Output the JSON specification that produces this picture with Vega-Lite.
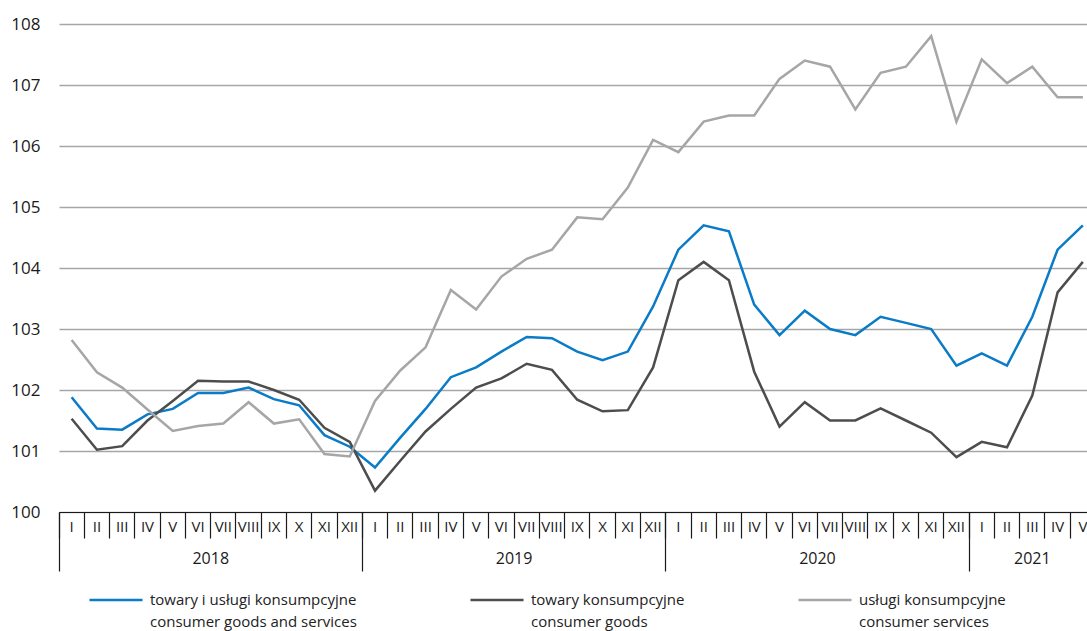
{
  "$schema": "https://vega.github.io/schema/vega-lite/v6.json",
  "autosize": {"type": "none"},
  "width": 1028,
  "height": 488,
  "padding": {"left": 59, "top": 24, "right": 0, "bottom": 119},
  "background": "white",
  "config": {"view": {"stroke": null}, "font": "Open Sans"},
  "data": {"values": [
    {"m": "2018-01", "a": 101.88, "g": 101.53, "s": 102.82},
    {"m": "2018-02", "a": 101.37, "g": 101.02, "s": 102.29},
    {"m": "2018-03", "a": 101.35, "g": 101.08, "s": 102.04},
    {"m": "2018-04", "a": 101.6, "g": 101.5, "s": 101.68},
    {"m": "2018-05", "a": 101.69, "g": 101.82, "s": 101.33},
    {"m": "2018-06", "a": 101.95, "g": 102.15, "s": 101.41},
    {"m": "2018-07", "a": 101.95, "g": 102.14, "s": 101.45},
    {"m": "2018-08", "a": 102.04, "g": 102.14, "s": 101.8},
    {"m": "2018-09", "a": 101.85, "g": 102.0, "s": 101.45},
    {"m": "2018-10", "a": 101.75, "g": 101.84, "s": 101.52},
    {"m": "2018-11", "a": 101.26, "g": 101.38, "s": 100.95},
    {"m": "2018-12", "a": 101.07, "g": 101.15, "s": 100.91},
    {"m": "2019-01", "a": 100.73, "g": 100.35, "s": 101.82},
    {"m": "2019-02", "a": 101.22, "g": 100.84, "s": 102.32},
    {"m": "2019-03", "a": 101.69, "g": 101.32, "s": 102.7},
    {"m": "2019-04", "a": 102.21, "g": 101.69, "s": 103.64},
    {"m": "2019-05", "a": 102.37, "g": 102.04, "s": 103.32},
    {"m": "2019-06", "a": 102.63, "g": 102.19, "s": 103.86},
    {"m": "2019-07", "a": 102.87, "g": 102.43, "s": 104.15},
    {"m": "2019-08", "a": 102.85, "g": 102.33, "s": 104.3},
    {"m": "2019-09", "a": 102.63, "g": 101.84, "s": 104.83},
    {"m": "2019-10", "a": 102.49, "g": 101.65, "s": 104.8},
    {"m": "2019-11", "a": 102.63, "g": 101.67, "s": 105.32},
    {"m": "2019-12", "a": 103.37, "g": 102.37, "s": 106.1},
    {"m": "2020-01", "a": 104.3, "g": 103.8, "s": 105.9},
    {"m": "2020-02", "a": 104.7, "g": 104.1, "s": 106.4},
    {"m": "2020-03", "a": 104.6, "g": 103.8, "s": 106.5},
    {"m": "2020-04", "a": 103.4, "g": 102.3, "s": 106.5},
    {"m": "2020-05", "a": 102.9, "g": 101.4, "s": 107.1},
    {"m": "2020-06", "a": 103.3, "g": 101.8, "s": 107.4},
    {"m": "2020-07", "a": 103.0, "g": 101.5, "s": 107.3},
    {"m": "2020-08", "a": 102.9, "g": 101.5, "s": 106.6},
    {"m": "2020-09", "a": 103.2, "g": 101.7, "s": 107.2},
    {"m": "2020-10", "a": 103.1, "g": 101.5, "s": 107.3},
    {"m": "2020-11", "a": 103.0, "g": 101.3, "s": 107.8},
    {"m": "2020-12", "a": 102.4, "g": 100.9, "s": 106.4},
    {"m": "2021-01", "a": 102.6, "g": 101.15, "s": 107.42},
    {"m": "2021-02", "a": 102.4, "g": 101.06, "s": 107.03},
    {"m": "2021-03", "a": 103.2, "g": 101.91, "s": 107.3},
    {"m": "2021-04", "a": 104.3, "g": 103.6, "s": 106.8},
    {"m": "2021-05", "a": 104.7, "g": 104.1, "s": 106.8}
  ]},
  "transform": [{"fold": ["a", "g", "s"], "as": ["series", "value"]}],
  "resolve": {"axis": {"x": "independent"}},
  "layer": [
    {
      "mark": {"type": "line", "strokeWidth": 2.5, "strokeJoin": "miter"},
      "encoding": {
        "x": {
          "field": "m", "type": "ordinal",
          "scale": {"type": "band", "range": [0, 1036.5], "paddingInner": 0, "paddingOuter": 0},
          "axis": {
            "orient": "bottom",
            "title": null,
            "bandPosition": 0,
            "domainColor": "#1a1a1a",
            "domainWidth": 1.2,
            "tickColor": "#1a1a1a",
            "tickWidth": 1.2,
            "tickSize": 26,
            "labelExpr": "['I','II','III','IV','V','VI','VII','VIII','IX','X','XI','XII'][toNumber(slice(datum.value, 5, 7)) - 1]",
            "labelAngle": 0,
            "labelAlign": "center",
            "labelBaseline": "middle",
            "labelPadding": -12,
            "labelOffset": 0,
            "labelOverlap": false,
            "labelBound": false,
            "labelFlush": false,
            "labelFont": "Open Sans",
            "labelFontSize": 15,
            "labelColor": "#1a1a1a",
            "grid": false
          }
        },
        "y": {
          "field": "value", "type": "quantitative",
          "scale": {"domain": [100, 108], "nice": false, "zero": false},
          "axis": {
            "title": null,
            "values": [100, 101, 102, 103, 104, 105, 106, 107, 108],
            "format": "d",
            "domain": false,
            "ticks": false,
            "grid": true,
            "gridColor": "#a6a6a6",
            "gridWidth": 1.3,
            "labelPadding": 19,
            "labelFont": "Open Sans",
            "labelFontSize": 17,
            "labelColor": "#1a1a1a"
          }
        },
        "color": {
          "field": "series", "type": "nominal",
          "scale": {"domain": ["a", "g", "s"], "range": ["#0a7bc6", "#4d4d4d", "#a6a6a6"]},
          "legend": {
            "title": null,
            "orient": "none",
            "legendX": 29,
            "legendY": 548,
            "direction": "horizontal",
            "columns": 3,
            "gridAlign": "each",
            "columnPadding": 108,
            "padding": 0,
            "symbolType": "stroke",
            "symbolSize": 2809,
            "symbolStrokeWidth": 2.5,
            "labelOffset": 6,
            "labelFont": "Open Sans",
            "labelFontSize": 15,
            "labelColor": "#222222",
            "labelLimit": 0,
            "labelBaseline": "middle",
            "labelExpr": "datum.label == 'a' ? ['towary i usługi konsumpcyjne', 'consumer goods and services'] : datum.label == 'g' ? ['towary konsumpcyjne', 'consumer goods'] : ['usługi konsumpcyjne', 'consumer services']",
            "encode": {"labels": {"update": {"lineHeight": {"value": 22}}}}
          }
        }
      }
    },
    {
      "mark": {"type": "point", "opacity": 0},
      "encoding": {
        "x": {
          "field": "m", "type": "ordinal",
          "axis": {
            "orient": "bottom",
            "title": null,
            "values": ["2018-01", "2019-01", "2020-01", "2021-01"],
            "bandPosition": 0,
            "domain": false,
            "tickColor": "#1a1a1a",
            "tickWidth": 1.2,
            "tickSize": 59,
            "labelExpr": "slice(datum.value, 0, 4)",
            "labelAngle": 0,
            "labelAlign": "center",
            "labelBaseline": "middle",
            "labelPadding": -13,
            "labelOffset": {"condition": {"test": "datum.value == '2021-01'", "value": 50.6}, "value": 139.1},
            "labelOverlap": false,
            "labelBound": false,
            "labelFlush": false,
            "labelFont": "Open Sans",
            "labelFontSize": 16,
            "labelColor": "#1a1a1a",
            "grid": false
          }
        },
        "y": {"field": "value", "type": "quantitative"}
      }
    }
  ]
}
